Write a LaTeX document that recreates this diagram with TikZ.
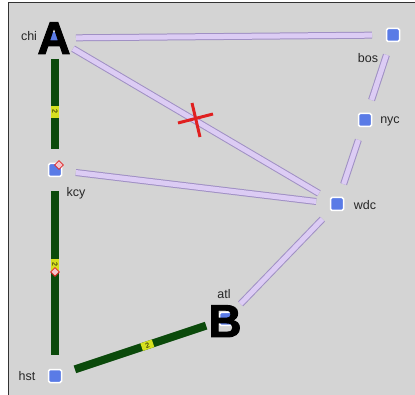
\documentclass[tikz,border=0pt]{standalone}
\usepackage{fontspec}
\setmainfont{Liberation Sans}
\newfontfamily\heavyfont[BoldFeatures={FakeBold=2}]{Liberation Sans}
\usetikzlibrary{shapes.geometric}
\definecolor{bg}{HTML}{D4D4D4}
\definecolor{cityblue}{HTML}{5A7BE6}
\definecolor{lavfill}{HTML}{DCCCF4}
\definecolor{lavout}{HTML}{A090C4}
\definecolor{grn}{HTML}{0B4A0B}
\definecolor{ylw}{HTML}{D6E020}
\definecolor{xred}{HTML}{E02020}
\definecolor{mkfill}{HTML}{F4C4CC}
\tikzset{
  city/.style={rectangle, fill=cityblue, draw=white, line width=1.5pt, rounded corners=1.5pt, minimum size=13pt, inner sep=0pt},
  clabel/.style={font=\fontsize{12.5}{12.5}\selectfont, text=black!85, inner sep=0pt},
  lavedge/.style={draw=lavout, double=lavfill, double distance=5pt, line width=1pt, shorten >=21pt, shorten <=21pt},
  grnedge/.style={draw=grn, line width=8pt, shorten >=21pt, shorten <=21pt},
  elab/.style={fill=ylw, sloped, font=\fontsize{7}{7}\selectfont, inner sep=0pt, minimum width=12pt, minimum height=8pt},
  marker/.style={diamond, fill=mkfill, draw=xred, line width=0.8pt, inner sep=0pt, minimum size=9pt},
  bigletter/.style={font=\heavyfont\fontsize{46}{46}\selectfont\bfseries, text=black, inner sep=0pt, anchor=base}
}
\begin{document}
\begin{tikzpicture}[x=1pt,y=-1pt]
\useasboundingbox (0,0) rectangle (415,395);
\fill[white] (0,0) rectangle (415,395);
\fill[bg] (8,3) rectangle (415,395);
\draw[line width=1pt, black!80] (8,395) -- (8,3) -- (415,3);

% cities
\node[city] (chi) at (55,38) {};
\node[city] (bos) at (393,35) {};
\node[city] (nyc) at (365,120) {};
\node[city] (kcy) at (55,170) {};
\node[city] (wdc) at (337,204) {};
\node[city] (atl) at (226,319) {};
\node[city] (hst) at (55,376) {};

% labels
\node[clabel] (lchi) at (29,36) {chi};
\node[clabel] (lbos) at (368,58) {bos};
\node[clabel] (lnyc) at (390,121) {nyc};
\node[clabel] (lkcy) at (76,193) {kcy};
\node[clabel] (lwdc) at (365,205) {wdc};
\node[clabel] (latl) at (224,294) {atl};
\node[clabel] (lhst) at (27,376) {hst};

% lavender edges
\draw[lavedge] (chi.center) -- (bos.center);
\draw[lavedge] (chi.center) -- (wdc.center);
\draw[lavedge] (kcy.center) -- (wdc.center);
\draw[lavedge] (bos.center) -- (nyc.center);
\draw[lavedge] (nyc.center) -- (wdc.center);
\draw[lavedge] (wdc.center) -- (atl.center);

% green edges
\draw[grnedge] (chi.center) -- node[elab, pos=0.56] (e1) {2} (kcy.center);
\draw[grnedge] (kcy.center) -- node[elab, pos=0.46] (e2) {2} node[marker, pos=0.495] (m2) {} (hst.center);
\draw[grnedge] (hst.center) -- node[elab, pos=0.54] (e3) {2} (atl.center);

% marker at kcy
\node[marker] (m1) at (59,165) {};

% red cross
\draw[xred, line width=3pt] (178,123) -- (213,114);
\draw[xred, line width=3pt] (192,103) -- (200,137);

% big letters
\node[bigletter] (A) at (54,54) {A};
\node[bigletter] (B) at (225,337) {B};
\end{tikzpicture}
\end{document}
